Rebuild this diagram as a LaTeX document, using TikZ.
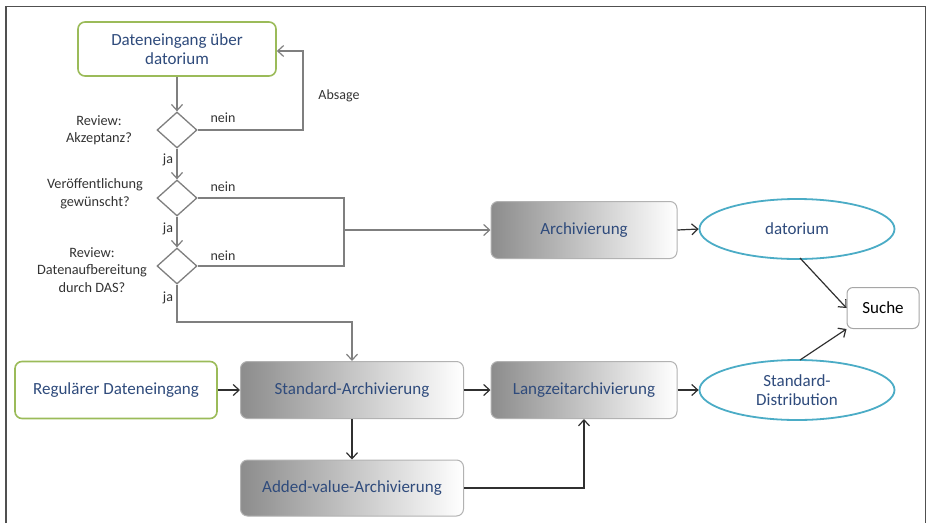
\documentclass[tikz,border=0pt]{standalone}
\usepackage{fontspec}
\setmainfont{Carlito}
\usetikzlibrary{shapes.geometric,arrows.meta}
\definecolor{txtblue}{HTML}{2F4B7C}
\definecolor{boxgreen}{HTML}{9BBB59}
\definecolor{ellcyan}{HTML}{4BACC6}
\definecolor{flowgray}{HTML}{7F7F7F}
\definecolor{linedark}{HTML}{303030}
\definecolor{framegray}{HTML}{505050}
\begin{document}
\begin{tikzpicture}[x=1pt,y=-1pt,
  font=\fontsize{17}{19}\selectfont,
  startbox/.style={draw=boxgreen,line width=1.6pt,rounded corners=7pt,fill=white,
    text=txtblue,align=center,inner sep=0pt},
  procbox/.style={draw=gray!60,line width=1pt,rounded corners=7pt,
    left color=gray!90,right color=white,text=txtblue,inner sep=0pt,align=center},
  outell/.style={ellipse,draw=ellcyan,line width=1.8pt,fill=white,text=txtblue,
    inner sep=0pt,align=center,minimum width=195pt,minimum height=60pt},
  decision/.style={diamond,draw=flowgray,line width=1.3pt,fill=white,
    minimum width=40pt,minimum height=36pt,inner sep=0pt,aspect=1.1},
  qlabel/.style={font=\fontsize{14.3}{17.5}\selectfont,text=black!80,align=center},
  flowlbl/.style={font=\fontsize{14}{16}\selectfont,text=black!80},
  garrow/.style={draw=flowgray,line width=1.2pt,-{Straight Barb[length=6pt,width=11pt]}},
  gline/.style={draw=flowgray,line width=1.2pt},
  darrow/.style={draw=linedark,line width=1.2pt,-{Straight Barb[length=6pt,width=11pt]}},
]
\useasboundingbox (0,0) rectangle (927,523);
% outer frame
\draw[framegray,line width=2pt] (6,523) -- (6,6);
\draw[framegray,line width=1pt] (6,6) -- (925,6) -- (925,523);

% upper decision chain
\node[startbox,minimum width=198pt,minimum height=54pt] (inbox) at (177,49) {Dateneingang über\\datorium};
\node[decision] (d1) at (177,130) {};
\node[decision] (d2) at (177,198) {};
\node[decision] (d3) at (177,266) {};
\node[qlabel,anchor=center] (q1) at (99,130) {Review:\\Akzeptanz?};
\node[qlabel,anchor=center] (q2) at (95,194) {Veröffentlichung\\gewünscht?};
\node[qlabel,anchor=center] (q3) at (92,270) {Review:\\Datenaufbereitung\\durch DAS?};

% processes
\node[procbox,minimum width=186pt,minimum height=57pt] (arch) at (584,230) {Archivierung};
\node[outell] (dat) at (797,229) {datorium};
\node[draw=gray!70,line width=1pt,rounded corners=6pt,fill=white,minimum width=72pt,
  minimum height=41pt,inner sep=0pt] (suche) at (883,308) {Suche};
\node[startbox,minimum width=202pt,minimum height=57pt] (reg) at (116,390) {Regulärer Dateneingang};
\node[procbox,minimum width=223pt,minimum height=57pt] (std) at (352,390) {Standard-Archivierung};
\node[procbox,minimum width=186pt,minimum height=57pt] (lang) at (584,390) {Langzeitarchivierung};
\node[outell] (dist) at (797,390) {Standard-\\Distribution};
\node[procbox,minimum width=223pt,minimum height=56pt] (added) at (352,488) {Added-value-Archivierung};

% routing points
\coordinate (absR) at (303,130);
\coordinate (absT) at (303,51);
\coordinate (join) at (344,230);
\coordinate (jaB) at (177,322);
\coordinate (jaR) at (352,322);

% decision flow
\draw[garrow] (inbox.south) -- (d1.north);
\draw[garrow] (d1.east) -- (absR) -- (absT) -- (absT -| inbox.east);
\draw[garrow] (d1.south) -- (d2.north);
\draw[garrow] (d2.south) -- (d3.north);
\draw[gline] (d2.east) -- (d2.east -| join) -- (d3.east -| join) -- (d3.east);
\draw[garrow] (join) -- (arch.west);
\draw[garrow] (d3.south) -- (jaB) -- (jaR) -- (std.north);

\node[flowlbl] (n1) at (223,118) {nein};
\node[flowlbl] (n2) at (223,187) {nein};
\node[flowlbl] (n3) at (223,256) {nein};
\node[flowlbl] (abs) at (339,96) {Absage};
\node[flowlbl] (j1) at (168,160) {ja};
\node[flowlbl] (j2) at (168,229) {ja};
\node[flowlbl] (j3) at (168,298) {ja};

% archiving flow
\draw[darrow] (arch.east) -- (dat.west);
\draw[darrow] (reg.east) -- (std.west);
\draw[darrow] (std.east) -- (lang.west);
\draw[darrow] (lang.east) -- (dist.west);
\draw[darrow] (std.south) -- (added.north);
\draw[darrow] (added.east) -- (added.east -| lang.south) -- (lang.south);
\draw[darrow] (800,258) -- (suche.west);
\draw[darrow] (800,360) -- (suche.south west);
\end{tikzpicture}
\end{document}
